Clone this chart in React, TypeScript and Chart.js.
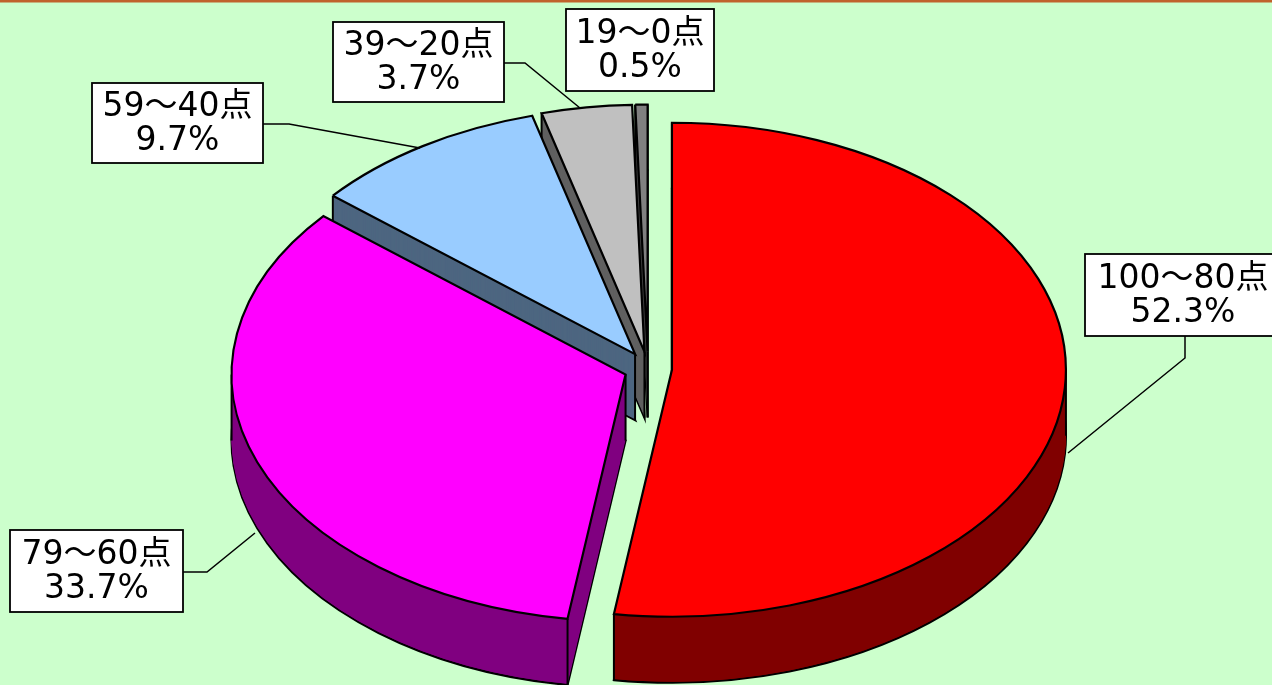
import React, { useEffect, useRef } from 'react';
import { Chart, registerables } from 'chart.js';

Chart.register(...registerables);

// ---- data ----
const categories = ['100～80点', '79～60点', '59～40点', '39～20点', '19～0点'];
const shares = [52.3, 33.7, 9.7, 3.7, 0.5];
const percentLabels = ['52.3%', '33.7%', '9.7%', '3.7%', '0.5%'];

// ---- styles ----
const topColors = ['#FF0000', '#FF00FF', '#99CCFF', '#C0C0C0', '#808080'];
const sideColors = ['#800000', '#800080', '#4D6680', '#606060', '#404040'];

// ---- layout of the tilted (3D) pie ----
const CENTER_X = 648;
const CENTER_Y = 368.5;
const RADIUS_X = 394;
const RADIUS_Y = 247;
const DEPTH = 66;
const EXPLODE_X = 24;
const EXPLODE_Y = 17;
const BASE_R = 200;

// ---- label boxes (layout) ----
const boxCX = [1183, 96.5, 177.5, 418.5, 640];
const boxCY = [295, 571, 123, 62, 50];
const boxW = [196, 173, 171, 171, 148];
const boxH = [82, 82, 80, 80, 82];
const leaders: number[][][] = [
  [[1185, 336], [1185, 358], [1068, 453]],
  [[183, 572], [207, 572], [255, 533]],
  [[263, 124], [289, 124], [420, 148]],
  [[504, 63], [525, 63], [580, 108]],
  [],
];

const LABEL_FONT = '33px "DejaVu Sans", "Noto Sans CJK JP", sans-serif';

const pie3d = {
  id: 'pie3d',
  beforeDraw(chart: any) {
    const ctx = chart.ctx;
    ctx.save();
    ctx.fillStyle = '#CCFFCC';
    ctx.fillRect(0, 0, chart.width, chart.height);
    ctx.fillStyle = '#C0622C';
    ctx.fillRect(0, 0, chart.width, 2.5);
    ctx.restore();
  },
  beforeDatasetsDraw(chart: any) {
    const ctx = chart.ctx;
    const meta = chart.getDatasetMeta(0);
    const arcs = meta.data as any[];
    const sx = RADIUS_X / BASE_R;
    const sy = RADIUS_Y / BASE_R;
    const dpr = chart.currentDevicePixelRatio || 1;
    const origStroke = ctx.stroke;
    ctx.stroke = function (...args: any[]) {
      this.save();
      this.setTransform(dpr, 0, 0, dpr, 0, 0);
      origStroke.apply(this, args);
      this.restore();
    };
    const order = arcs.map((_, i) => i).reverse();
    for (const i of order) {
      const arc = arcs[i];
      const a0 = arc.startAngle;
      const a1 = arc.endAngle;
      const mid = (a0 + a1) / 2;
      const ox = CENTER_X + EXPLODE_X * Math.cos(mid);
      const oy = CENTER_Y + EXPLODE_Y * Math.sin(mid);
      const orig = arc.options;
      const drawAt = (dy: number, opts: any) => {
        ctx.save();
        ctx.translate(ox, oy + dy);
        ctx.scale(sx, sy);
        ctx.translate(-arc.x, -arc.y);
        arc.options = opts;
        arc.draw(ctx);
        arc.options = orig;
        ctx.restore();
      };
      // side walls (extrusion)
      drawAt(DEPTH, { ...orig, backgroundColor: sideColors[i], borderColor: '#000000', offset: 0 });
      for (let d = DEPTH - 1; d >= 1; d--) {
        drawAt(d, { ...orig, backgroundColor: sideColors[i], borderWidth: 0, offset: 0 });
      }
      // vertical edges
      const pts: number[][] = [[ox, oy]];
      const angs = [a0, a1];
      [0, Math.PI].forEach((t) => {
        if (t > a0 && t < a1) angs.push(t);
      });
      angs.forEach((a) => pts.push([ox + RADIUS_X * Math.cos(a), oy + RADIUS_Y * Math.sin(a)]));
      ctx.save();
      ctx.strokeStyle = '#000000';
      ctx.lineWidth = 2;
      pts.forEach(([x, y]) => {
        ctx.beginPath();
        ctx.moveTo(x, y);
        ctx.lineTo(x, y + DEPTH);
        ctx.stroke();
      });
      ctx.restore();
      // top face
      drawAt(0, { ...orig, offset: 0 });
    }
    delete ctx.stroke;
    return false;
  },
  afterDraw(chart: any) {
    const ctx = chart.ctx;
    ctx.save();
    ctx.strokeStyle = '#000000';
    ctx.lineWidth = 1.5;
    leaders.forEach((pl) => {
      if (!pl.length) return;
      ctx.beginPath();
      pl.forEach(([x, y], k) => (k === 0 ? ctx.moveTo(x, y) : ctx.lineTo(x, y)));
      ctx.stroke();
    });
    categories.forEach((cat, i) => {
      const x0 = boxCX[i] - boxW[i] / 2;
      const y0 = boxCY[i] - boxH[i] / 2;
      ctx.fillStyle = '#FFFFFF';
      ctx.fillRect(x0, y0, boxW[i], boxH[i]);
      ctx.lineWidth = 1.8;
      ctx.strokeRect(x0, y0, boxW[i], boxH[i]);
      ctx.fillStyle = '#000000';
      ctx.font = LABEL_FONT;
      ctx.textAlign = 'center';
      ctx.textBaseline = 'middle';
      ctx.fillText(cat, boxCX[i], boxCY[i] - 16);
      ctx.fillText(percentLabels[i], boxCX[i], boxCY[i] + 18);
    });
    ctx.restore();
  },
};

export default function App() {
  const ref = useRef<HTMLCanvasElement>(null);
  useEffect(() => {
    const chart = new Chart(ref.current as HTMLCanvasElement, {
      type: 'pie',
      data: {
        labels: categories,
        datasets: [
          {
            data: shares,
            backgroundColor: topColors,
            borderColor: '#000000',
            borderWidth: 2.2,
            borderJoinStyle: 'miter',
            offset: 0,
            hoverOffset: 0,
          } as any,
        ],
      },
      options: {
        responsive: false,
        animation: false,
        events: [],
        radius: BASE_R,
        layout: { padding: 0 },
        plugins: { legend: { display: false }, tooltip: { enabled: false } },
      } as any,
      plugins: [pie3d as any],
    });
    return () => chart.destroy();
  }, []);
  return (
    <div style={{ position: 'fixed', left: 0, top: 0, width: 1272, height: 685, background: '#CCFFCC', overflow: 'hidden' }}>
      <canvas ref={ref} width={1272} height={685} style={{ display: 'block' }} />
    </div>
  );
}
